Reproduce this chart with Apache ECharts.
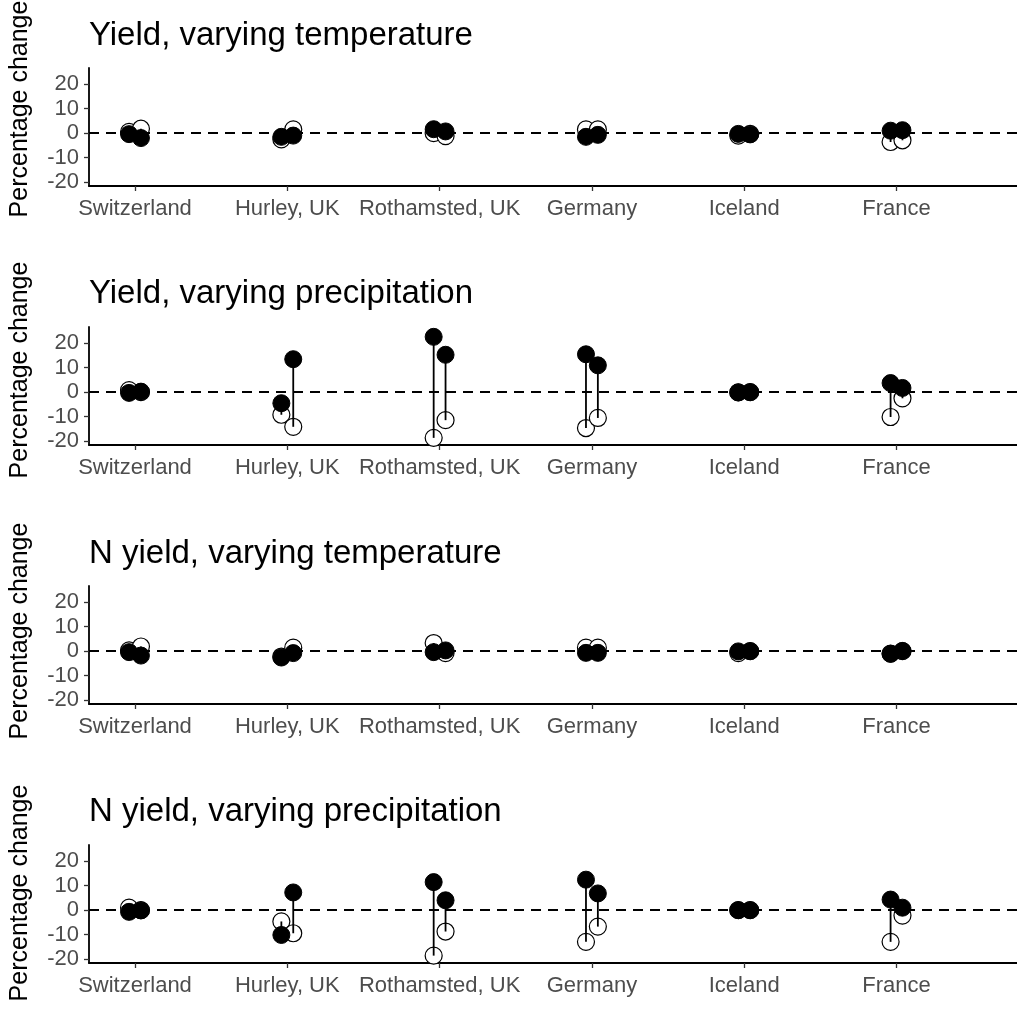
<!DOCTYPE html>
<html>
<head>
<meta charset="utf-8">
<script src="https://cdn.jsdelivr.net/npm/echarts@6/dist/echarts.min.js"></script>
<style>html,body{margin:0;padding:0;background:#fff}#c{width:1017px;height:1025px}</style>
</head>
<body>
<div id="c"></div>
<script>
const countries = ['Switzerland', 'Hurley, UK', 'Rothamsted, UK', 'Germany', 'Iceland', 'France'];
const panelTitles = ['Yield, varying temperature', 'Yield, varying precipitation', 'N yield, varying temperature', 'N yield, varying precipitation'];
const yTicks = [-20, -10, 0, 10, 20];
const yTitle = 'Percentage change';

// A = left point of each pair, B = right point of each pair
const yieldTempOpenA   = [0.5, -2.5, 0.0, 1.5, -1.0, -3.6];
const yieldTempOpenB   = [1.8, 1.5, -1.2, 1.5, -0.3, -2.9];
const yieldTempFilledA = [-0.4, -1.5, 1.6, -1.5, -0.3, 1.0];
const yieldTempFilledB = [-2.0, -1.0, 0.7, -0.7, -0.5, 1.2];

const yieldPrecOpenA   = [0.8, -9.2, -18.6, -14.6, -0.1, -10.1];
const yieldPrecOpenB   = [0.0, -14.1, -11.4, -10.5, 0.0, -2.5];
const yieldPrecFilledA = [-0.3, -4.5, 22.5, 15.4, -0.1, 3.7];
const yieldPrecFilledB = [0.2, 13.4, 15.2, 10.9, 0.0, 1.7];

const nTempOpenA   = [0.3, -2.2, 3.3, 1.4, -0.8, -1.0];
const nTempOpenB   = [1.9, 1.4, -0.8, 1.4, 0.0, 0.0];
const nTempFilledA = [-0.4, -2.6, -0.4, -0.7, -0.1, -1.1];
const nTempFilledB = [-1.8, -0.8, 0.3, -0.7, 0.0, 0.1];

const nPrecOpenA   = [1.0, -4.6, -18.5, -12.9, 0.0, -12.9];
const nPrecOpenB   = [0.0, -9.4, -8.7, -6.7, 0.0, -2.2];
const nPrecFilledA = [-0.7, -10.1, 11.4, 12.4, 0.0, 4.3];
const nPrecFilledB = [-0.1, 7.2, 4.0, 6.8, 0.0, 1.0];

const panels = [
  [yieldTempOpenA, yieldTempOpenB, yieldTempFilledA, yieldTempFilledB],
  [yieldPrecOpenA, yieldPrecOpenB, yieldPrecFilledA, yieldPrecFilledB],
  [nTempOpenA, nTempOpenB, nTempFilledA, nTempFilledB],
  [nPrecOpenA, nPrecOpenB, nPrecFilledA, nPrecFilledB]
];

const FONT = '"Liberation Sans", Arial, sans-serif';
const dodge = 0.039;
const gridTops = [68, 327, 586, 845];
const titleY = [36, 294, 554, 812];
const yTitleY = [109, 370, 631, 893];

const grids = [], xAxes = [], yAxes = [], series = [], graphics = [];
panels.forEach((p, k) => {
  const [oA, oB, fA, fB] = p;
  grids.push({ left: 89, right: 0, top: gridTops[k], height: 118 });
  xAxes.push({
    type: 'value', gridIndex: k, min: -0.302, max: 5.791,
    axisLine: { onZero: false, lineStyle: { color: '#000', width: 1.8 } },
    axisTick: { customValues: [0, 1, 2, 3, 4, 5], length: 5, lineStyle: { color: '#333', width: 1.3 } },
    axisLabel: { customValues: [0, 1, 2, 3, 4, 5], formatter: v => countries[Math.round(v)], fontSize: 22, fontFamily: FONT, color: '#4d4d4d', margin: 12 },
    splitLine: { show: false }
  });
  yAxes.push({
    type: 'value', gridIndex: k, min: -21.5, max: 26.5,
    axisLine: { show: true, onZero: false, lineStyle: { color: '#000', width: 1.8 } },
    axisTick: { show: true, customValues: yTicks, length: 5, lineStyle: { color: '#333', width: 1.3 } },
    axisLabel: { customValues: yTicks, fontSize: 22, fontFamily: FONT, color: '#4d4d4d', margin: 10 },
    splitLine: { show: false }
  });
  const seg = [], open = [], filled = [];
  countries.forEach((c, i) => {
    seg.push([i - dodge, oA[i], fA[i]]);
    seg.push([i + dodge, oB[i], fB[i]]);
    open.push([i - dodge, oA[i]]);
    open.push([i + dodge, oB[i]]);
    filled.push([i - dodge, fA[i]]);
    filled.push([i + dodge, fB[i]]);
  });
  series.push({
    type: 'scatter', xAxisIndex: k, yAxisIndex: k, data: open, symbol: 'circle', symbolSize: 17, z: 2,
    itemStyle: { color: '#fff', borderColor: '#000', borderWidth: 1.2, opacity: 1 },
    markLine: {
      silent: true, symbol: 'none', animation: false, label: { show: false },
      lineStyle: { color: '#000', width: 2.2, type: [10, 7] },
      data: [{ yAxis: 0 }]
    }
  });
  series.push({
    type: 'custom', xAxisIndex: k, yAxisIndex: k, data: seg, z: 3,
    encode: { x: 0, y: [1, 2] },
    renderItem: (params, api) => {
      const a = api.coord([api.value(0), api.value(1)]);
      const b = api.coord([api.value(0), api.value(2)]);
      return { type: 'line', shape: { x1: a[0], y1: a[1], x2: b[0], y2: b[1] }, style: { stroke: '#000', lineWidth: 1.8 } };
    }
  });
  series.push({
    type: 'scatter', xAxisIndex: k, yAxisIndex: k, data: filled, symbol: 'circle', symbolSize: 17, z: 4,
    itemStyle: { color: '#000', borderColor: '#000', borderWidth: 1, opacity: 1 }
  });
  graphics.push({
    type: 'text', x: 89, y: titleY[k],
    style: { text: panelTitles[k], font: '33px ' + FONT, fill: '#000', align: 'left', verticalAlign: 'middle' }
  });
  graphics.push({
    type: 'text', x: 20, y: yTitleY[k], rotation: Math.PI / 2,
    style: { text: yTitle, font: '25px ' + FONT, fill: '#000', align: 'center', verticalAlign: 'middle' }
  });
});

const chart = echarts.init(document.getElementById('c'), null, { renderer: 'canvas' });
chart.setOption({
  animation: false,
  backgroundColor: '#fff',
  grid: grids, xAxis: xAxes, yAxis: yAxes, series: series, graphic: graphics
});
</script>
</body>
</html>
